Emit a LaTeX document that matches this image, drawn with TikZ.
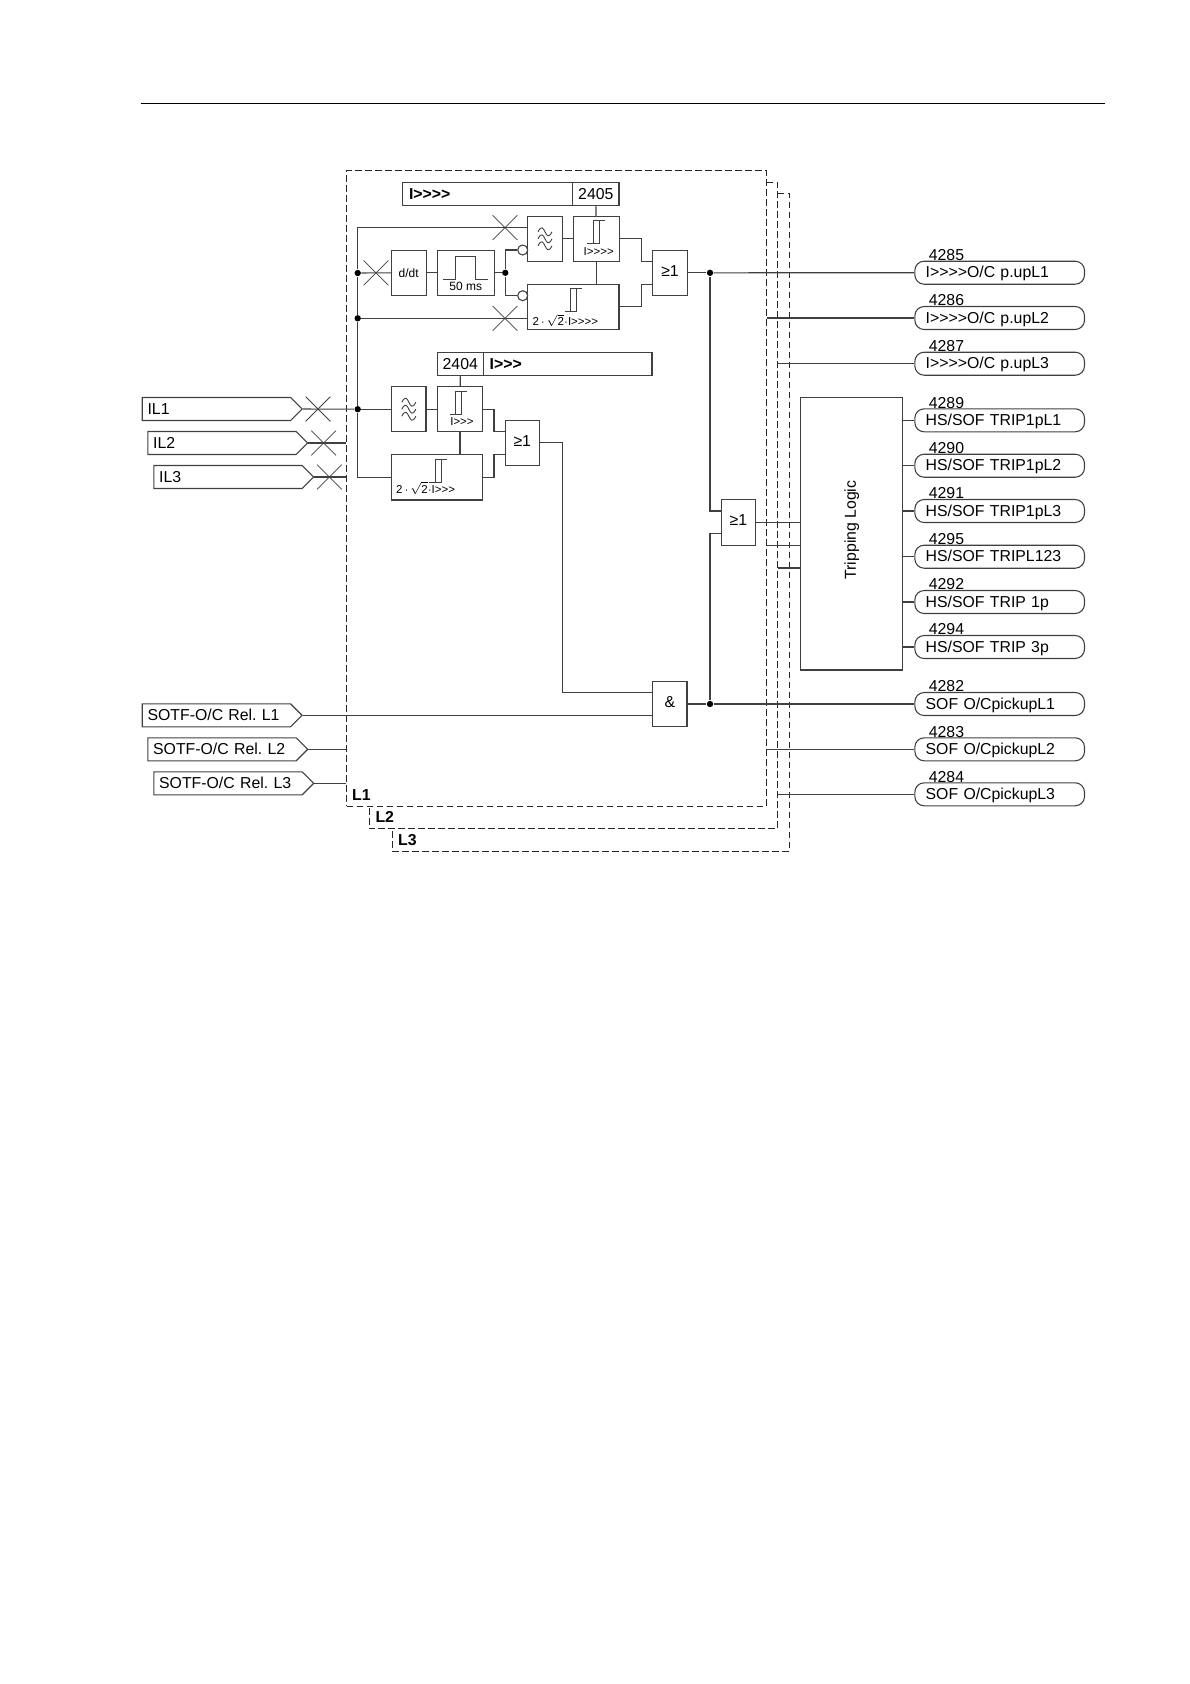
\documentclass[tikz,border=0pt]{standalone}
\usepackage{fontspec}
\setmainfont[Ligatures=TeXOff]{Liberation Sans}
\usetikzlibrary{positioning}
\usetikzlibrary{shapes.misc,shapes.symbols}
\usetikzlibrary{calc}
\frenchspacing

\tikzset{
	blk/.style 2 args={draw, rectangle, inner sep=0pt, minimum width=#1*0.6pt, minimum height=#2*0.6pt},
	txt/.style={font=\fontsize{9.5}{11}\selectfont, inner sep=0pt},
	gatetxt/.style={font=\fontsize{9.5}{11}\selectfont, text height=6.8pt, text depth=2.8pt},
	smalltxt/.style={font=\fontsize{7.2}{9}\selectfont, inner sep=0pt},
	tinytxt/.style={font=\fontsize{6.9}{8}\selectfont, inner sep=0pt},
	boldtxt/.style={font=\fontsize{9.5}{11}\selectfont\bfseries, inner sep=0pt},
	jn/.style={circle, fill=black, inner sep=0pt, minimum size=3.8pt},
	neg/.style={circle, draw, fill=white, inner sep=0pt, minimum size=6pt},
	xcross/.style={cross out, draw, inner sep=0pt, minimum width=14.4pt, minimum height=14.4pt, line width=0.45pt},
	sym/.style={line width=0.55pt},
	frame/.style={dash pattern=on 4pt off 2pt, line width=0.5pt, black!85},
	pill/.style={draw, rectangle, rounded corners=5.6pt, anchor=west, inner xsep=6.5pt, inner ysep=0pt, text width=88.8pt, minimum height=13.8pt, text height=7.6pt, text depth=1.4pt, font=\fontsize{9.5}{11}\selectfont},
	insig/.style={draw, signal, signal to=east, signal pointer angle=90, anchor=west, inner xsep=3.2pt, inner ysep=0pt, text width=82.6pt, minimum height=13.8pt, text height=7.6pt, text depth=1.4pt, font=\fontsize{9.5}{11}\selectfont}
}

\newcommand{\hyst}[2]{
	\draw[sym] (#1-6,#2+23) -- (#1+6,#2+23) -- (#1+6,#2);
	\draw[sym] (#1,#2+23) -- (#1,#2) -- (#1+11.7,#2);
}
\newcommand{\filtsym}[1]{
	\foreach \dy in {-7,0,7} {
		\draw[sym] ($(#1)+(-7,\dy)$) .. controls +(7,-14) and +(-7,14) .. ($(#1)+(7,\dy)$);
	}
}

\begin{document}
\begin{tikzpicture}[x=0.6pt, y=-0.6pt, line width=0.65pt, black!75, text=black]
	\useasboundingbox (0,0) rectangle (1190,1684);

	\draw[black, line width=0.75pt] (141,103.3) -- (1105,103.3);

	% the three phases
	\node[blk={419.8}{635.7}, frame] (bL1) at (556.4,488.15) {};
	\coordinate (cL2) at (777.7,182.3);
	\coordinate (cL3) at (789.3,193.3);
	\draw[frame] (bL1.east |- cL2) -- (cL2) -- (cL2 |- 0,828.7) -- (369.3,828.7) -- (369.3,806);
	\draw[frame] (cL2 |- cL3) -- (cL3) -- (cL3 |- 0,851) -- (392,851) -- (392,828.7);
	\node[boldtxt, anchor=west] (lblL1) at (351.7,794.7) {L1};
	\node[boldtxt, anchor=west] (lblL2) at (375,817) {L2};
	\node[boldtxt, anchor=west] (lblL3) at (397.7,839.7) {L3};

	% inputs
	\foreach \name/\xl/\yc/\txt in {il1/141.7/409/{IL1}, il2/147.3/443/{IL2}, il3/153.3/477/{IL3}, so1/141.7/715.3/{SOTF-O/C Rel. L1}, so2/147.3/749.3/{SOTF-O/C Rel. L2}, so3/153.3/783.3/{SOTF-O/C Rel. L3}} {
		\node[insig] (\name) at (\xl,\yc) {\txt};
	}
	\node[xcross] (xil1) at (318,409) {};
	\node[xcross] (xil2) at (323.7,443) {};
	\node[xcross] (xil3) at (329.3,477) {};

	% upper branch
	\node[blk={170}{22.6}, txt, text width=94.4pt, inner xsep=3.8pt, align=left] (setA) at (487.7,194) {\bfseries I>>>>};
	\node[blk={46.3}{22.6}, txt] (setAn) at (595.85,194) {2405};
	\node[blk={34.6}{45}] (fltA) at (545,238.8) {};
	\node[blk={45.7}{45}] (thrA) at (596.2,238.8) {};
	\node[tinytxt] (thrAtxt) at (598.7,251.7) {I>>>>};
	\node[blk={91.3}{45}] (thrB) at (573.35,306.8) {};
	\node[tinytxt, anchor=west] (thrBtxt) at (532,320.5) {2\,$\cdot$\,$\sqrt{\hbox{2}}$$\cdot$I>>>>};
	\node[blk={34.7}{45}, smalltxt] (ddt) at (408.7,272.8) {d/dt};
	\node[blk={57}{45}] (pulse) at (465.8,272.8) {};
	\node[smalltxt] (pulsetxt) at (465.7,286.7) {50 ms};
	\node[blk={34.6}{45}, gatetxt] (orA) at (670,272.8) {≥1};
	\node[neg] (negA) at (522.7,250) {};
	\node[neg] (negB) at (522.7,295.7) {};
	\node[jn] (jP) at (505.3,272.8) {};
	\node[jn] (jA) at (710,272.8) {};
	\node[xcross] (xA) at (505,227.7) {};
	\node[xcross] (xD) at (376,272.8) {};
	\node[xcross] (xB) at (505,318.3) {};
	\filtsym{fltA}
	\hyst{593.3}{220.3}
	\hyst{570.7}{288.5}
	\draw[sym] (443.3,279.3) -- (455.7,279.3) -- (455.7,256.7) -- (475.7,256.7) -- (475.7,279.3) -- (487.7,279.3);

	% lower branch
	\node[blk={46}{22.6}, txt] (setBn) at (460.3,364) {2404};
	\node[blk={168.7}{22.6}, txt, text width=93.6pt, inner xsep=3.8pt, align=left] (setB) at (567.65,364) {\bfseries I>>>};
	\node[blk={34.3}{45}] (fltB) at (408.85,409.2) {};
	\node[blk={45.4}{45}] (thrC) at (460,409.2) {};
	\node[tinytxt] (thrCtxt) at (462,421.7) {I>>>};
	\node[blk={91}{45.7}] (thrD) at (437.2,477.15) {};
	\node[tinytxt, anchor=west] (thrDtxt) at (395.7,488) {2\,$\cdot$\,$\sqrt{\hbox{2}}$$\cdot$I>>>};
	\node[blk={34}{45}, gatetxt] (orB) at (522.3,442.8) {≥1};
	\node[jn] (jB) at (357.7,273) {};
	\node[jn] (jC) at (357.7,318.3) {};
	\node[jn] (jD) at (357.7,409.2) {};
	\filtsym{fltB}
	\hyst{455.7}{391.7}
	\hyst{435}{459}

	% gates and logic
	\node[blk={34.3}{45.4}, gatetxt] (andG) at (669.85,704) {\&};
	\node[blk={34}{45.6}, gatetxt] (orC) at (738.3,522.5) {≥1};
	\node[blk={102.4}{272.3}] (logic) at (851.5,533.85) {};
	\node[txt, rotate=90] (logictxt) at (851.7,530) {Tripping Logic};
	\node[jn] (jE) at (710,704) {};

	% outputs
	\foreach \num/\yc/\txt in {4285/272.7/{I>>>>O/C p.upL1}, 4286/318/{I>>>>O/C p.upL2}, 4287/363.7/{I>>>>O/C p.upL3}, 4289/420.3/{HS/SOF TRIP1pL1}, 4290/465.7/{HS/SOF TRIP1pL2}, 4291/511/{HS/SOF TRIP1pL3}, 4295/556.7/{HS/SOF TRIPL123}, 4292/602/{HS/SOF TRIP 1p}, 4294/647/{HS/SOF TRIP 3p}, 4282/704/{SOF O/CpickupL1}, 4283/749.3/{SOF O/CpickupL2}, 4284/794.3/{SOF O/CpickupL3}} {
		\node[pill] (o\num) at (914.3,\yc) {\txt};
		\node[txt, anchor=west] (n\num) at (928.3,\yc-17.5) {\num};
	}

	% upper connectors
	\coordinate (inH) at (527.7,227.7);
	\draw (jB) -- (ddt.west);
	\draw (jD) -- (jC);
	\draw (jC) -- (jB);
	\draw (jB) |- (inH);
	\draw (jC) -- (thrB.west |- jC);
	\draw (ddt) -- (pulse);
	\draw (pulse) -- (jP);
	\draw (jP) |- (negA.west);
	\draw (jP) |- (negB.west);
	\draw (fltA) -- (thrA);
	\draw (setAn) -- (thrA);
	\draw (thrA.south) -- (thrA.south |- thrB.north);
	\coordinate (inA) at (652.7,261.3);
	\coordinate (inB) at (652.7,284.3);
	\draw (thrA.east) -- (641.7,238.8) |- (inA);
	\draw (thrB.east) -- (641.7,306.8) |- (inB);
	\draw (orA) -- (jA);
	\draw (jA) -- (o4285.west);

	% lower connectors
	\draw (il1.east) -- (jD);
	\draw (il2.east) -- (bL1.west |- il2);
	\draw (il3.east) -- (bL1.west |- il3);
	\draw (jD) -- (fltB);
	\draw (jD) |- (thrD.west);
	\draw (fltB) -- (thrC);
	\draw (setBn.south) -- (thrC);
	\draw (thrC) -- (thrD.north -| thrC);
	\coordinate (inC) at (505.3,431.7);
	\coordinate (inD) at (505.3,454.3);
	\draw (thrC.east) -- (494,409.2) |- (inC);
	\draw (thrD.east) -- (494,477.15) |- (inD);
	\coordinate (inE) at (652.7,692.7);
	\draw (orB.east) -| (562.3,692.7) -- (inE);
	\draw (so1.east) -- (so1.east -| andG.west);
	\draw (so2.east) -- (bL1.west |- so2);
	\draw (so3.east) -- (bL1.west |- so3);
	\draw (andG) -- (jE);
	\draw (jE) -- (o4282.west);
	\coordinate (inF) at (721.3,511);
	\coordinate (inG) at (721.3,533.7);
	\draw (jA) |- (inF);
	\draw (jE) |- (inG);
	\draw (orC) -- (orC -| logic.west);
	\draw (bL1.east |- 0,545.3) -- (logic.west |- 0,545.3);
	\draw (cL2 |- 0,568) -- (logic.west |- 0,568);

	% other phases to the outputs
	\draw (bL1.east |- o4286.west) -- (o4286.west);
	\draw (cL2 |- o4287.west) -- (o4287.west);
	\draw (bL1.east |- o4283.west) -- (o4283.west);
	\draw (cL2 |- o4284.west) -- (o4284.west);
	\foreach \num in {4289,4290,4291,4295,4292,4294} {
		\draw (logic.east |- o\num.west) -- (o\num.west);
	}
\end{tikzpicture}
\end{document}
